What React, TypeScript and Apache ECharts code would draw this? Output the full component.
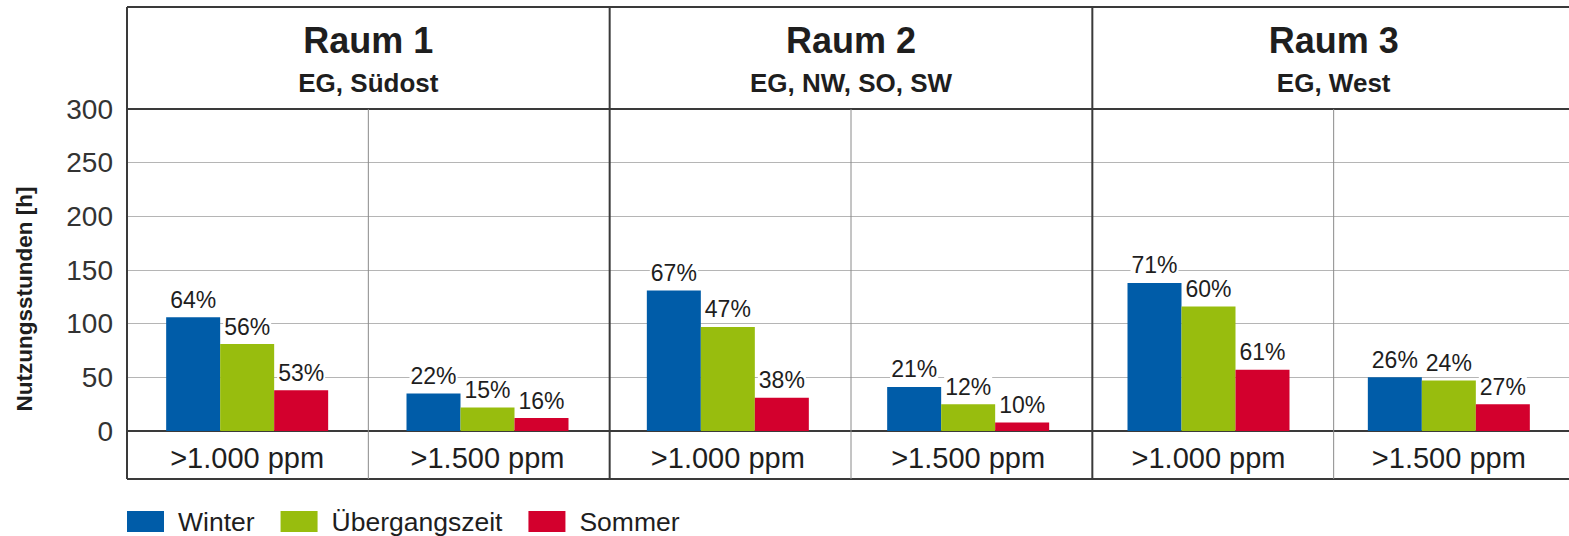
import React, { useEffect, useRef } from "react";
import * as echarts from "echarts";

// Rooms shown as panels across the top
const rooms = ["Raum 1", "Raum 2", "Raum 3"];
const roomInfo = ["EG, Südost", "EG, NW, SO, SW", "EG, West"];
const thresholds = [">1.000 ppm", ">1.500 ppm"];

// Usage hours above each CO2 threshold, per room (R1 >1000, R1 >1500, R2 ..., R3 ...)
const winter = [106, 35, 131, 41, 138, 50];
const uebergang = [81, 22, 97, 25, 116, 47];
const sommer = [38, 12, 31, 8, 57, 25];

// Share of usage hours (%) printed above each bar
const winterPct = [64, 22, 67, 21, 71, 26];
const uebergangPct = [56, 15, 47, 12, 60, 24];
const sommerPct = [53, 16, 38, 10, 61, 27];

const yTicks = { min: 0, max: 300, step: 50 };

const FONT = '"Liberation Sans", Arial, Helvetica, sans-serif';
const GRID_LEFT = 127;
const GRID_TOP = 109;
const GRID_W = 1448;
const GRID_H = 322;
const FRAME_TOP = 7;
const FRAME_BOTTOM = 479;
const FRAME_COLOR = "#3a3a3a";

const categories = rooms.flatMap((r) => thresholds.map((t) => `${r}|${t}`));

export default function App() {
  const ref = useRef<HTMLDivElement>(null);

  useEffect(() => {
    if (!ref.current) return;
    const chart = echarts.init(ref.current, null, { renderer: "svg" });

    const right = GRID_LEFT + GRID_W;
    const panelW = GRID_W / rooms.length;
    const catW = GRID_W / categories.length;

    const line = (x1: number, y1: number, x2: number, y2: number, color: string, w: number) => ({
      type: "line",
      shape: { x1, y1, x2, y2 },
      style: { stroke: color, lineWidth: w },
      z: 10,
      silent: true,
    });

    const graphics: any[] = [];
    // outer frame and header separator
    graphics.push(line(GRID_LEFT, FRAME_TOP, right, FRAME_TOP, FRAME_COLOR, 2));
    graphics.push(line(GRID_LEFT, GRID_TOP, right, GRID_TOP, FRAME_COLOR, 2));
    graphics.push(line(GRID_LEFT, FRAME_BOTTOM, right, FRAME_BOTTOM, FRAME_COLOR, 2));
    for (let i = 0; i <= rooms.length; i++) {
      const x = GRID_LEFT + i * panelW;
      graphics.push(line(x, FRAME_TOP, x, FRAME_BOTTOM, FRAME_COLOR, 2));
    }
    // thin separators between the two thresholds of each room
    for (let i = 0; i < rooms.length; i++) {
      const x = GRID_LEFT + (2 * i + 1) * catW;
      graphics.push(line(x, GRID_TOP, x, FRAME_BOTTOM, "#8a8a8a", 1));
    }
    // panel headers
    rooms.forEach((r, i) => {
      const cx = GRID_LEFT + (i + 0.5) * panelW;
      graphics.push({
        type: "text",
        x: cx,
        y: 40,
        style: {
          text: r,
          font: `bold 36px ${FONT}`,
          fill: "#1e1e1e",
          textAlign: "center",
          textVerticalAlign: "middle",
        },
        z: 11,
      });
      graphics.push({
        type: "text",
        x: cx,
        y: 83,
        style: {
          text: roomInfo[i],
          font: `bold 26px ${FONT}`,
          fill: "#1e1e1e",
          textAlign: "center",
          textVerticalAlign: "middle",
        },
        z: 11,
      });
    });
    // y axis title
    graphics.push({
      type: "text",
      x: 24,
      y: 299,
      rotation: Math.PI / 2,
      style: {
        text: "Nutzungsstunden [h]",
        font: `bold 22.5px ${FONT}`,
        fill: "#1e1e1e",
        textAlign: "center",
        textVerticalAlign: "middle",
      },
      z: 11,
    });

    const label = (pct: number[]) => ({
      show: true,
      position: "top",
      distance: 6,
      fontFamily: FONT,
      fontSize: 23,
      color: "#1e1e1e",
      backgroundColor: "#ffffff",
      padding: [0, 1, 0, 1],
      formatter: (p: any) => `${pct[p.dataIndex]}%`,
    });

    const bar = (name: string, data: number[], color: string, pct: number[]) => ({
      name,
      type: "bar",
      data,
      barWidth: 54,
      barGap: "0%",
      itemStyle: { color },
      label: label(pct),
    });

    chart.setOption({
      animation: false,
      backgroundColor: "#ffffff",
      grid: { left: GRID_LEFT, top: GRID_TOP, width: GRID_W, height: GRID_H, containLabel: false },
      legend: {
        left: GRID_LEFT,
        top: 508,
        padding: 0,
        itemWidth: 37,
        itemHeight: 21,
        itemGap: 26,
        icon: "rect",
        textStyle: {
          fontFamily: FONT,
          fontSize: 26.5,
          color: "#1e1e1e",
          padding: [0, 0, 0, 9],
        },
        data: ["Winter", "Übergangszeit", "Sommer"],
      },
      xAxis: {
        type: "category",
        data: categories,
        axisTick: { show: false },
        axisLine: { show: true, lineStyle: { color: FRAME_COLOR, width: 2 } },
        splitLine: { show: false },
        axisLabel: {
          margin: 12,
          fontFamily: FONT,
          fontSize: 29,
          color: "#1e1e1e",
          formatter: (v: string) => v.split("|")[1],
        },
      },
      yAxis: {
        type: "value",
        min: yTicks.min,
        max: yTicks.max,
        interval: yTicks.step,
        axisLine: { show: false },
        axisTick: { show: false },
        axisLabel: { margin: 14, fontFamily: FONT, fontSize: 28, color: "#333333" },
        splitLine: { show: true, lineStyle: { color: "#b5b5b5", width: 1 } },
      },
      series: [
        bar("Winter", winter, "#005ca8", winterPct),
        bar("Übergangszeit", uebergang, "#98bd0e", uebergangPct),
        bar("Sommer", sommer, "#d3002d", sommerPct),
      ],
      graphic: graphics,
    });

    return () => chart.dispose();
  }, []);

  return (
    <div
      ref={ref}
      style={{ position: "absolute", left: 0, top: 0, width: 1569, height: 536, overflow: "hidden" }}
    />
  );
}
